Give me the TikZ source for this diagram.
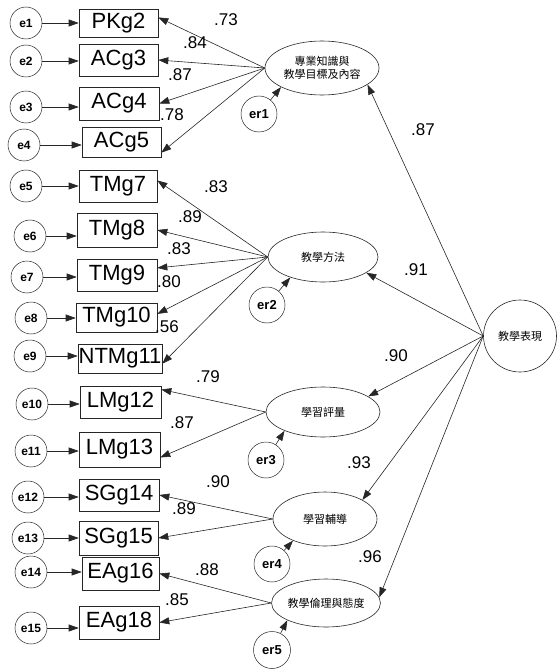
\documentclass[tikz,border=0pt]{standalone}
\usepackage{fontspec}
\setmainfont{Liberation Sans}
\newfontfamily\cjk{Noto Sans CJK TC}
\usetikzlibrary{shapes.geometric,arrows.meta}
\begin{document}
\begin{tikzpicture}[x=1pt,y=-1pt,
  obs/.style={draw=black!85, rectangle, inner sep=0pt, line width=0.6pt, font=\fontsize{22}{22}\selectfont},
  err/.style={draw=black!85, circle, minimum size=32pt, inner sep=0pt, line width=0.5pt, font=\bfseries\fontsize{12}{12}\selectfont},
  res/.style={draw=black!85, circle, minimum size=36pt, inner sep=0pt, line width=0.5pt, font=\bfseries\fontsize{13}{13}\selectfont},
  lat/.style={draw=black!85, ellipse, inner sep=0pt, line width=0.6pt, align=center, font=\cjk\fontsize{11}{12.5}\selectfont},
  arr/.style={draw=black!85, -{Triangle[length=10pt,width=7pt]}, line width=0.6pt},
  coef/.style={inner sep=0pt, font=\fontsize{17}{17}\selectfont}]
\useasboundingbox (0,0) rectangle (557,671);

% observed variables
\node[obs, minimum width=79pt, minimum height=28pt] (b1) at (118.5,23) {PKg2};
\node[obs, minimum width=79pt, minimum height=32pt] (b2) at (118.5,60) {ACg3};
\node[obs, minimum width=80pt, minimum height=33pt] (b3) at (119,103.5) {ACg4};
\node[obs, minimum width=79pt, minimum height=30pt] (b4) at (121.5,142) {ACg5};
\node[obs, minimum width=78pt, minimum height=32pt] (b5) at (118,186) {TMg7};
\node[obs, minimum width=80pt, minimum height=34pt] (b6) at (117,230) {TMg8};
\node[obs, minimum width=80pt, minimum height=32pt] (b7) at (117,275) {TMg9};
\node[obs, minimum width=81pt, minimum height=29pt] (b8) at (116.5,317.5) {TMg10};
\node[obs, minimum width=84pt, minimum height=29pt] (b9) at (120,358.5) {NTMg11};
\node[obs, minimum width=81pt, minimum height=32pt] (b10) at (120.5,402) {LMg12};
\node[obs, minimum width=81pt, minimum height=35pt] (b11) at (119.5,449.5) {LMg13};
\node[obs, minimum width=80pt, minimum height=32pt] (b12) at (119,495) {SGg14};
\node[obs, minimum width=79pt, minimum height=34pt] (b13) at (118.5,538) {SGg15};
\node[obs, minimum width=77pt, minimum height=33pt] (b14) at (120.5,573.5) {EAg16};
\node[obs, minimum width=80pt, minimum height=33pt] (b15) at (119,622.5) {EAg18};

% error terms
\node[err] (e1) at (26,23) {e1};
\node[err] (e2) at (26,61) {e2};
\node[err] (e3) at (26,107) {e3};
\node[err] (e4) at (24,145) {e4};
\node[err] (e5) at (26,186) {e5};
\node[err] (e6) at (30,236) {e6};
\node[err] (e7) at (27,277) {e7};
\node[err] (e8) at (31,318) {e8};
\node[err] (e9) at (30,356) {e9};
\node[err] (e10) at (32,404) {e10};
\node[err] (e11) at (31,451) {e11};
\node[err] (e12) at (28,497) {e12};
\node[err] (e13) at (28,538) {e13};
\node[err] (e14) at (31,572) {e14};
\node[err] (e15) at (31,628) {e15};

\foreach \i in {1,...,15} {\draw[arr] (e\i) -- (e\i -| b\i.west);}

% first-order factors
\node[lat, minimum width=114pt, minimum height=54pt] (F1) at (322,68) {專業知識與\\教學目標及內容};
\node[lat, minimum width=110pt, minimum height=50pt] (F2) at (323,257) {教學方法};
\node[lat, minimum width=114pt, minimum height=50pt] (F3) at (323,412) {學習評量};
\node[lat, minimum width=104pt, minimum height=54pt] (F4) at (325,519) {學習輔導};
\node[lat, minimum width=106pt, minimum height=48pt] (F5) at (326,603) {教學倫理與態度};
% second-order factor
\node[lat, minimum width=73pt, minimum height=72pt] (F0) at (520,336) {教學表現};

% residuals
\node[res] (r1) at (259,114) {er1};
\node[res] (r2) at (267,305) {er2};
\node[res] (r3) at (266,460) {er3};
\node[res] (r4) at (272,564) {er4};
\node[res, minimum size=37pt] (r5) at (272,650) {er5};
\draw[arr] (r1) -- (F1.205);
\draw[arr] (r2) -- (F2.212);
\draw[arr] (r3) -- (F3.206);
\draw[arr] (r4) -- (F4.214);
\draw[arr] (r5) -- (F5.204);

% loadings
\draw[arr] (F1.west) -- (b1.8);
\draw[arr] (F1.west) -- (b2.east);
\draw[arr] (F1.west) -- (b3.east);
\draw[arr] (F1.west) -- (b4.345);
\draw[arr] (F2.west) -- (b5.8);
\draw[arr] (F2.west) -- (b6.east);
\draw[arr] (F2.west) -- (b7.10);
\draw[arr] (F2.west) -- (b8.5);
\draw[arr] (F2.west) -- (b9.353);
\draw[arr] (F3.west) -- (b10.17);
\draw[arr] (F3.west) -- (b11.349);
\draw[arr] (F4.west) -- (b12.east);
\draw[arr] (F4.west) -- (b13.east);
\draw[arr] (F5.west) -- (b14.east);
\draw[arr] (F5.west) -- (b15.east);

\draw[arr] (F0.west) -- (F1.340);
\draw[arr] (F0.west) -- (F2.340);
\draw[arr] (F0.west) -- (F3.19);
\draw[arr] (F0.west) -- (F4.27);
\draw[arr] (F0.west) -- (F5.6);

% coefficients
\node[coef] (c1) at (226,20) {.73};
\node[coef] (c2) at (195,43) {.84};
\node[coef] (c3) at (180,75) {.87};
\node[coef] (c4) at (172,115) {.78};
\node[coef] (c5) at (216,187) {.83};
\node[coef] (c6) at (190,217) {.89};
\node[coef] (c7) at (179,249) {.83};
\node[coef] (c8) at (169,282) {.80};
\node[coef] (c9) at (167,327) {.56};
\node[coef] (c10) at (208,377) {.79};
\node[coef] (c11) at (182,423) {.87};
\node[coef] (c12) at (218,482) {.90};
\node[coef] (c13) at (184,509) {.89};
\node[coef] (c14) at (207,570) {.88};
\node[coef] (c15) at (177,600) {.85};
\node[coef] (g1) at (423,130) {.87};
\node[coef] (g2) at (416,270) {.91};
\node[coef] (g3) at (396,356) {.90};
\node[coef] (g4) at (359,463) {.93};
\node[coef] (g5) at (370,557) {.96};
\end{tikzpicture}
\end{document}
